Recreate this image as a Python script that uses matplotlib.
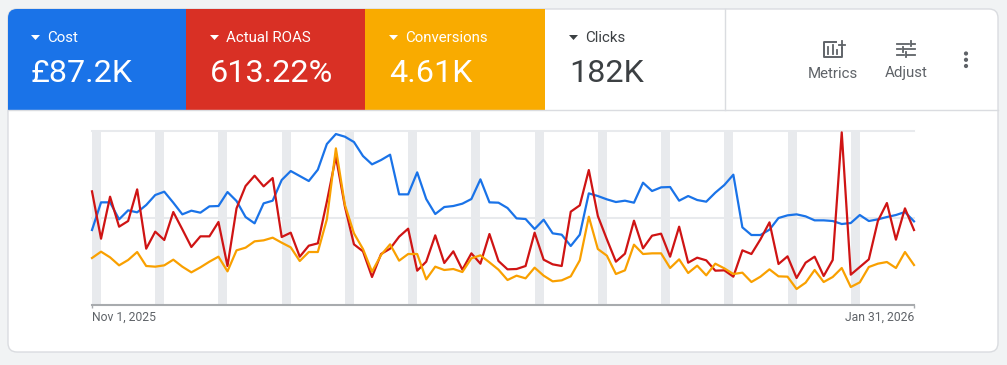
import matplotlib
matplotlib.use("Agg")
import matplotlib.pyplot as plt
from matplotlib.patches import FancyBboxPatch, Rectangle, Polygon, Circle
import pandas as pd

plt.rcParams['font.family'] = ['Roboto', 'DejaVu Sans']

cost = [225,308,308,257,284,278,300,330,340,307,
        272,283,277,296,297,339,312,264,245,305,
        313,375,402,387,372,406,483,513,505,489,
        447,422,435,451,332,332,398,318,273,294,
        297,304,318,377,308,307,291,260,258,228,
        256,215,211,177,211,335,327,317,309,313,
        307,367,342,353,354,313,327,315,310,337,
        360,391,233,210,210,226,261,269,272,266,
        254,254,252,243,246,270,252,257,264,270,
        279,251]
roas = [341,199,325,235,252,347,169,220,195,279,
        227,174,206,206,249,117,290,357,388,356,
        381,204,217,145,178,185,310,445,295,182,
        161,84,153,169,205,229,103,130,209,126,
        161,106,155,124,213,132,107,108,117,217,
        136,122,117,280,299,405,267,197,130,154,
        253,170,208,214,145,235,127,142,134,103,
        104,85,164,153,197,248,123,146,81,127,
        145,87,135,518,91,114,137,252,306,196,
        290,225]
conversions = [141,160,143,119,135,159,117,115,119,136,
               115,98,113,130,145,101,164,172,191,194,
               202,187,173,132,159,159,257,470,300,215,
               168,100,150,182,133,153,153,77,115,105,
               108,99,140,149,128,106,75,88,80,112,
               88,71,74,86,134,265,168,148,93,104,
               181,153,155,155,111,137,96,118,89,124,
               110,93,97,69,85,107,86,85,48,67,
               105,69,84,111,54,68,114,124,129,111,
               159,120]
days = pd.date_range("2025-11-01", "2026-01-31", freq="D")
y_grid = [0, 261.5, 523]
date_labels = ["Nov 1, 2025", "Jan 31, 2026"]
metric_names = ["Cost", "Actual ROAS", "Conversions", "Clicks"]
metric_values = ["£87.2K", "613.22%", "4.61K", "182K"]

BLUE = "#1a73e8"
RED = "#d93025"
ORANGE = "#f9ab00"
DARK = "#3c4043"
GREY = "#5f6368"
W, H = 1007, 365

fig = plt.figure(figsize=(W / 100, H / 100), dpi=100, facecolor="#f1f3f4")

# whole figure in pixel coords for the card around the chart
bg = fig.add_axes([0, 0, 1, 1])
bg.set_xlim(0, W)
bg.set_ylim(H, 0)
bg.axis("off")

card = FancyBboxPatch((8, 9), 990, 343, boxstyle="round,pad=0,rounding_size=9",
                      fc="white", ec="#dadce0", lw=1)
bg.add_patch(card)

tile_edges = [8, 186, 365, 545]
tile_widths = [178, 179, 180]
for left, width, color in zip(tile_edges, tile_widths, [BLUE, RED, ORANGE]):
    tile = Rectangle((left, 9), width, 101, fc=color, ec="none")
    bg.add_patch(tile)
    tile.set_clip_path(card)

bg.plot([8, 998], [110, 110], color="#dadce0", lw=1)
bg.plot([725, 725], [9, 110], color="#dadce0", lw=1)

label_x = [47, 226, 405, 585]
value_x = [31, 210, 389, 569]
for i in range(4):
    c = "white" if i < 3 else DARK
    tri_x = label_x[i] - 16
    bg.add_patch(Polygon([(tri_x, 35), (tri_x + 9, 35), (tri_x + 4.5, 40)], fc=c, ec="none"))
    bg.text(label_x[i], 37.5, metric_names[i], color=c, fontsize=10.8, va="center", ha="left")
    bg.text(value_x[i], 73.5, metric_values[i], color=c, fontsize=23.3, va="center", ha="left")

# metrics icon
bg.plot([836, 824, 824, 841.5, 841.5], [41.5, 41.5, 57, 57, 48], color=GREY, lw=1.4)
bg.plot([828, 828], [47, 53.5], color=GREY, lw=1.3)
bg.plot([832.5, 832.5], [45, 53.5], color=GREY, lw=1.3)
bg.plot([837, 837], [50, 53.5], color=GREY, lw=1.3)
bg.plot([839, 845], [44.5, 44.5], color=GREY, lw=1.3)
bg.plot([842, 842], [41, 47.5], color=GREY, lw=1.3)
bg.text(833, 73.5, "Metrics", color=GREY, fontsize=10.8, ha="center", va="center")

# adjust icon
for y, segs in [(43.5, [(897, 909), (912, 915)]), (49, [(897, 901), (904, 915)]), (54.5, [(897, 904), (907, 915)])]:
    for a, b in segs:
        bg.plot([a, b], [y, y], color=GREY, lw=1.3)
bg.plot([910.5, 910.5], [41, 46], color=GREY, lw=1.3)
bg.plot([902.5, 902.5], [46.5, 51.5], color=GREY, lw=1.3)
bg.plot([905.5, 905.5], [52, 57], color=GREY, lw=1.3)
bg.text(906, 73.5, "Adjust", color=GREY, fontsize=10.8, ha="center", va="center")

for y in [53.5, 59.8, 66]:
    bg.add_patch(Circle((966, y), 2.1, fc=GREY, ec="none"))

# chart
ax = fig.add_axes([92 / W, 1 - 305 / H, 822 / W, 174.3 / H])
ax.patch.set_alpha(0)
ax.set_xlim(days[0], days[-1])
ax.set_ylim(0, 523)
for s in ax.spines.values():
    s.set_visible(False)
ax.set_xticks([days[0], days[-1]])
ax.set_xticklabels([])
ax.tick_params(axis="x", length=2, width=1, color="#a8abae")
ax.set_yticks([])

for d in days:
    if d.weekday() == 5 and d != days[-1]:
        ax.axvspan(d, d + pd.Timedelta(days=1), color="#e8eaed", lw=0, zorder=1)

for y in y_grid[1:]:
    ax.axhline(y, color="#e8eaed", lw=1.5, zorder=1.5, clip_on=False)
ax.axhline(0, color="#a8abae", lw=1.5, zorder=2, clip_on=False)

ax.plot(days, cost, color="#1a73e8", lw=1.6, zorder=3, clip_on=False)
ax.plot(days, roas, color="#cf1414", lw=1.6, zorder=4, clip_on=False)
ax.plot(days, conversions, color="#f9a000", lw=1.6, zorder=5, clip_on=False)

bg.text(92, 317.5, date_labels[0], color=GREY, fontsize=8.75, ha="left", va="center")
bg.text(914, 317.5, date_labels[1], color=GREY, fontsize=8.75, ha="right", va="center")

fig.savefig("out.png", dpi=100, facecolor=fig.get_facecolor())
